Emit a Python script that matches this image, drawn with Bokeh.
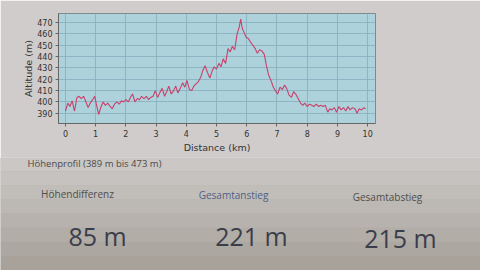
from bokeh.plotting import figure
from bokeh.layouts import column
from bokeh.models import Range1d, FixedTicker, BoxAnnotation
from bokeh.core.properties import value
from bokeh.embed import file_html
from bokeh.resources import INLINE

# ---- data ----
distance_km = [0.00, 0.08, 0.15, 0.22, 0.30, 0.38, 0.45, 0.52, 0.60, 0.68, 0.75, 0.82, 0.90, 0.97,
               1.03, 1.10, 1.18, 1.25, 1.32, 1.40, 1.48, 1.55, 1.62, 1.70, 1.78, 1.85, 1.92,
               2.00, 2.08, 2.15, 2.22, 2.30, 2.38, 2.45, 2.52, 2.60, 2.68, 2.75, 2.82, 2.90, 2.97,
               3.05, 3.12, 3.20, 3.28, 3.35, 3.42, 3.50, 3.58, 3.65, 3.72, 3.80, 3.88, 3.95,
               4.02, 4.10, 4.18, 4.25, 4.32, 4.40, 4.48, 4.55, 4.62, 4.70, 4.78, 4.85, 4.92,
               5.00, 5.08, 5.15, 5.22, 5.30, 5.38, 5.45, 5.52, 5.60, 5.68, 5.75, 5.80, 5.85, 5.90, 5.98,
               6.05, 6.12, 6.20, 6.28, 6.35, 6.42, 6.50, 6.58, 6.65, 6.72, 6.80, 6.88, 6.95,
               7.02, 7.10, 7.18, 7.25, 7.32, 7.40, 7.48, 7.55, 7.62, 7.70, 7.78, 7.85, 7.92,
               8.00, 8.08, 8.15, 8.22, 8.30, 8.38, 8.45, 8.52, 8.60, 8.68, 8.75, 8.82, 8.90, 8.97,
               9.05, 9.12, 9.20, 9.28, 9.35, 9.42, 9.50, 9.58, 9.65, 9.72, 9.80, 9.88, 9.93]
altitude_m = [392, 399, 396, 401, 392, 404, 405, 403, 405, 400, 395, 399, 402, 405,
              397, 389, 396, 400, 397, 399, 396, 394, 398, 400, 398, 401, 400,
              402, 400, 404, 407, 400, 403, 402, 405, 403, 405, 402, 404, 405, 410,
              404, 408, 412, 405, 409, 414, 407, 410, 414, 408, 412, 417, 413,
              419, 411, 410, 414, 416, 418, 422, 428, 432, 426, 421, 427, 431,
              429, 434, 431, 438, 434, 447, 444, 449, 446, 460, 466, 473, 465, 462, 457,
              456, 453, 450, 447, 443, 446, 445, 442, 432, 424, 419, 413, 410,
              407, 413, 411, 415, 412, 406, 404, 409, 407, 403, 399, 397, 399,
              396, 398, 397, 396, 398, 396, 397, 396, 397, 391, 394, 393, 395, 391,
              396, 393, 395, 392, 396, 393, 395, 394, 390, 394, 393, 395, 394]
x_ticks = [0, 1, 2, 3, 4, 5, 6, 7, 8, 9, 10]
y_ticks = [390, 400, 410, 420, 430, 440, 450, 460, 470]
min_alt, max_alt = 389, 473
stat_labels = ["Höhendifferenz", "Gesamtanstieg", "Gesamtabstieg"]
stat_values = ["85 m", "221 m", "215 m"]

# ---- chart ----
p = figure(width=480, height=157, x_range=Range1d(-0.23, 10.26), y_range=Range1d(381, 478),
           output_backend="svg", toolbar_location=None,
           min_border_left=58, min_border_right=105, min_border_top=13, min_border_bottom=34)
p.background_fill_color = "#aed2dc"
p.border_fill_color = "#d0cccb"
p.outline_line_color = "#7d8a90"
p.line(distance_km, altitude_m, color="#c9406a", line_width=1.1)

p.xaxis.ticker = FixedTicker(ticks=x_ticks)
p.yaxis.ticker = FixedTicker(ticks=y_ticks)
p.xaxis.axis_label = "Distance (km)"
p.yaxis.axis_label = "Altitude (m)"
for ax in (p.xaxis[0], p.yaxis[0]):
    ax.major_label_text_font = "DejaVu Sans"
    ax.major_label_text_font_size = "8px"
    ax.major_label_text_color = "#333333"
    ax.axis_label_text_font = "DejaVu Sans"
    ax.axis_label_text_font_size = "9.5px"
    ax.axis_label_text_font_style = "normal"
    ax.axis_label_text_color = "#333333"
    ax.axis_line_color = "#666666"
    ax.major_tick_line_color = "#666666"
    ax.minor_tick_line_color = None
    ax.major_tick_out = 3
    ax.major_tick_in = 0
    ax.major_label_standoff = 3
p.xaxis.axis_label_standoff = 2
p.yaxis.axis_label_standoff = 0
p.grid.grid_line_color = "#86aebd"
p.grid.grid_line_alpha = 0.8

# ---- text summary below (pixel coordinates) ----
q = figure(width=480, height=113, x_range=Range1d(0, 480), y_range=Range1d(113, 0),
           output_backend="svg", toolbar_location=None,
           min_border=0, min_border_left=0, min_border_right=0, min_border_top=0, min_border_bottom=0)
q.axis.visible = False
q.grid.visible = False
q.outline_line_color = None
q.background_fill_color = "#b4afaa"
q.border_fill_color = "#b4afaa"

# soft vertical shading of the photographed screen
band_edges = [0, 14, 28, 42, 56, 70, 84, 98, 113]
band_colors = ["#cbc7c5", "#c6c2bf", "#c1bdb9", "#bcb8b4", "#b7b2ad", "#b2ada7", "#ada7a1", "#a8a29b"]
for i in range(len(band_colors)):
    q.add_layout(BoxAnnotation(top=band_edges[i], bottom=band_edges[i + 1],
                               fill_color=band_colors[i], fill_alpha=1, line_color=None,
                               level="underlay"))

label_x = [77, 233, 387]
label_y = [36, 37, 39]
label_colors = ["#4e4e4e", "#4f5f86", "#4e4e4e"]
value_x = [97, 251, 400]
value_y = [78, 78, 80]
q.text(x=[27], y=[6], text=[f"Höhenprofil ({min_alt} m bis {max_alt} m)"],
       text_font=value("Open Sans"), text_font_size="9.5px", text_color="#4a4a4a",
       text_baseline="middle", text_align="left")
q.text(x=label_x, y=label_y, text=stat_labels,
       text_font=value("Open Sans"), text_font_size="10px", text_color=label_colors,
       text_baseline="middle", text_align="center")
q.text(x=value_x, y=value_y, text=stat_values,
       text_font=value("Open Sans"), text_font_size="25px", text_color="#3a3d4a",
       text_baseline="middle", text_align="center")

layout = column(p, column(q), spacing=0)
open("out.html", "w").write(file_html(layout, INLINE))
